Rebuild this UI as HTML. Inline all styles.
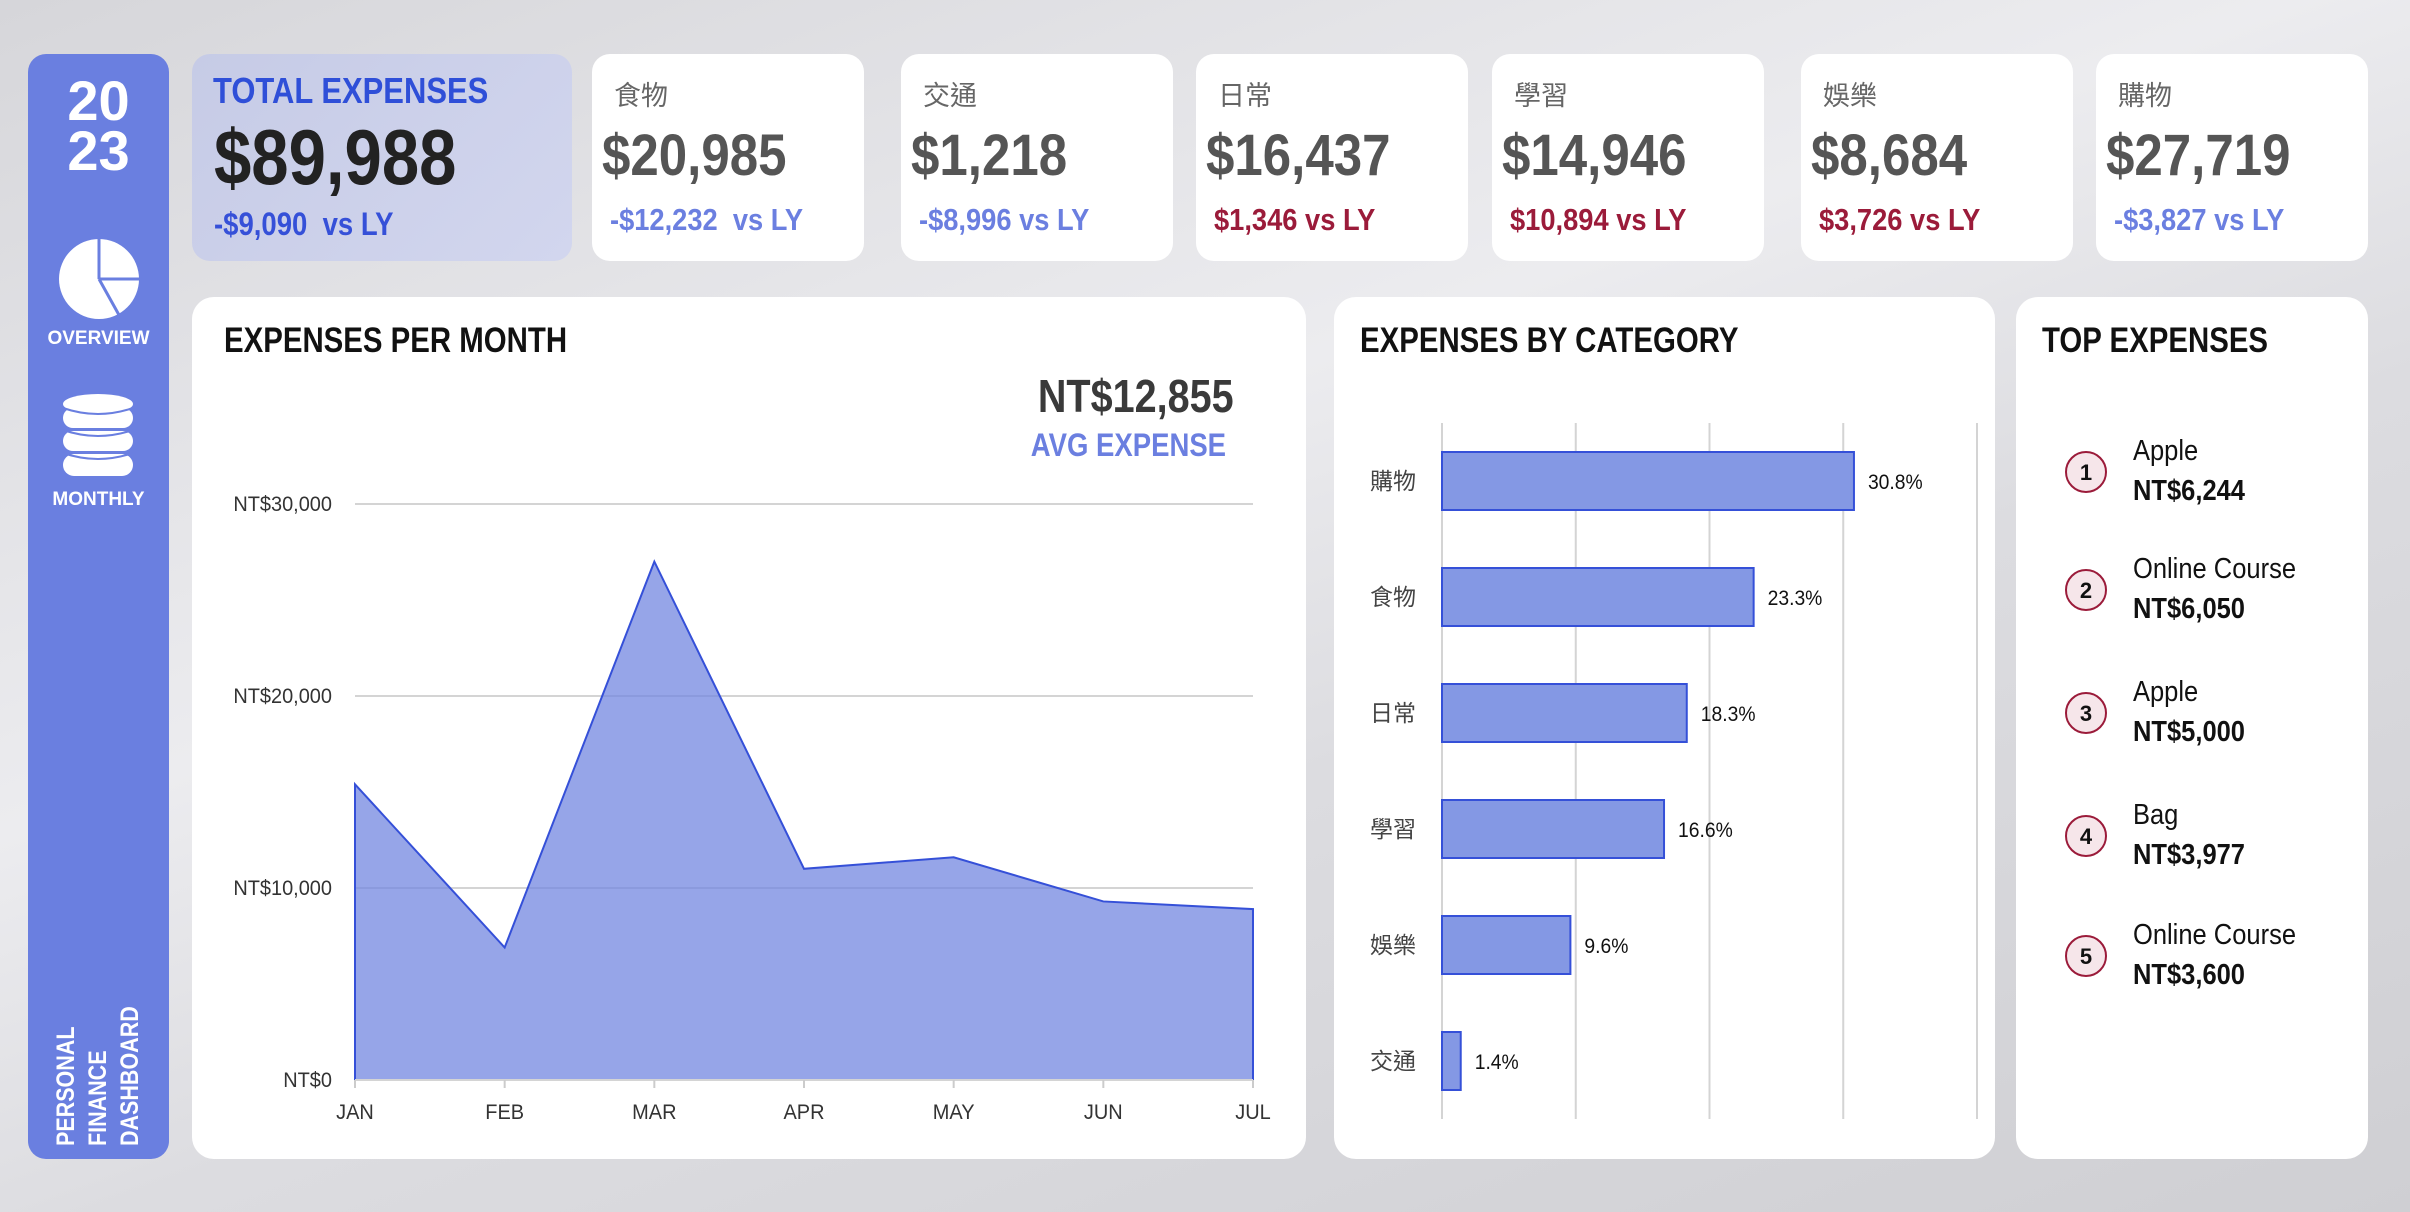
<!DOCTYPE html>
<html><head><meta charset="utf-8">
<style>
*{margin:0;padding:0;box-sizing:border-box}
body{width:2410px;height:1212px;overflow:hidden;position:relative;font-family:"Liberation Sans","Noto Sans CJK TC",sans-serif;background:linear-gradient(160deg,#d6d6da 0%,#ececef 40%,#dcdce0 60%,#cfcfd3 100%)}
.abs{position:absolute;white-space:nowrap}
.nx{transform:scaleX(.86);transform-origin:0 0}
.nr{transform:scaleX(.86);transform-origin:100% 0}
.card{position:absolute;background:#fff;border-radius:18px;top:54px;height:207px}
.lbl{position:absolute;left:22px;top:20px;font-size:27px;color:#666}
.val{position:absolute;left:10px;top:68px;font-size:58px;font-weight:bold;color:#555;transform:scaleX(.88);transform-origin:0 0}
.dl{position:absolute;left:18px;top:148px;font-size:31px;font-weight:bold;white-space:nowrap;transform:scaleX(.88);transform-origin:0 0}
.neg{color:#6b7fe0}.pos{color:#9b1b3a}
.panel{position:absolute;background:#fff;border-radius:22px;top:297px;height:862px}
.ptitle{position:absolute;font-size:35px;font-weight:bold;color:#111;top:24px;white-space:nowrap;transform:scaleX(.84);transform-origin:0 0}
.side{position:absolute;left:28px;top:54px;width:141px;height:1105px;background:#6a7fe0;border-radius:18px}
</style></head><body>
<div class="side">
 <div class="abs" style="left:0;width:141px;top:22px;text-align:center;color:#fff;font-weight:bold;font-size:56px;line-height:50px">20<br>23</div>
 <svg class="abs" style="left:29px;top:183px" width="84" height="84"><circle cx="42" cy="42" r="40" fill="#fff"/><path d="M42 42 L42 2 M42 42 L82 42 M42 42 L62 78" stroke="#6a7fe0" stroke-width="3" fill="none"/></svg>
 <div class="abs" style="left:0;width:141px;top:274px;text-align:center;color:#fff;font-weight:bold;font-size:19px">OVERVIEW</div>
 <svg class="abs" style="left:34px;top:340px" width="72" height="84"><g fill="#fff"><ellipse cx="36" cy="10" rx="35" ry="10"/><rect x="1" y="14" width="70" height="20" rx="10"/><rect x="1" y="37" width="70" height="20" rx="10"/><rect x="1" y="60" width="70" height="22" rx="11"/></g><g stroke="#6a7fe0" stroke-width="2" fill="none"><path d="M1 14 Q36 26 71 14"/><path d="M1 36 Q36 48 71 36"/><path d="M1 59 Q36 71 71 59"/></g></svg>
 <div class="abs" style="left:0;width:141px;top:435px;text-align:center;color:#fff;font-weight:bold;font-size:19px">MONTHLY</div>
 <div class="abs" style="left:22px;top:1092px;transform-origin:0 0;transform:rotate(-90deg) scaleX(.86);color:#fff;font-weight:bold;font-size:25px;line-height:32px">PERSONAL<br>FINANCE<br>DASHBOARD</div>
</div>

<div class="card" style="left:192px;width:380px;background:linear-gradient(135deg,#c6cbe6,#d2d6ee)">
 <div class="abs nx" style="left:21px;top:16px;font-size:36px;font-weight:bold;color:#2f4fd8">TOTAL EXPENSES</div>
 <div class="abs nx" style="left:22px;top:58px;font-size:78px;font-weight:bold;color:#222">$89,988</div>
 <div class="abs nx" style="left:22px;top:152px;font-size:32px;font-weight:bold;color:#3550d8">-$9,090 &nbsp;vs LY</div>
</div>
<div class="card" style="left:592px;width:272px"><div class="lbl">食物</div><div class="val">$20,985</div><div class="dl neg">-$12,232 &nbsp;vs LY</div></div>
<div class="card" style="left:901px;width:272px"><div class="lbl">交通</div><div class="val">$1,218</div><div class="dl neg">-$8,996 vs LY</div></div>
<div class="card" style="left:1196px;width:272px"><div class="lbl">日常</div><div class="val">$16,437</div><div class="dl pos">$1,346 vs LY</div></div>
<div class="card" style="left:1492px;width:272px"><div class="lbl">學習</div><div class="val">$14,946</div><div class="dl pos">$10,894 vs LY</div></div>
<div class="card" style="left:1801px;width:272px"><div class="lbl">娛樂</div><div class="val">$8,684</div><div class="dl pos">$3,726 vs LY</div></div>
<div class="card" style="left:2096px;width:272px"><div class="lbl">購物</div><div class="val">$27,719</div><div class="dl neg">-$3,827 vs LY</div></div>

<div class="panel" style="left:192px;width:1114px">
 <div class="ptitle" style="left:32px">EXPENSES PER MONTH</div>
 <div class="abs nr" style="right:72px;top:72px;font-size:46px;font-weight:bold;color:#3a3a3a">NT$12,855</div>
 <div class="abs nr" style="right:80px;top:130px;font-size:32px;font-weight:bold;color:#6b7fe0">AVG EXPENSE</div>
</div>
<div class="panel" style="left:1334px;width:661px">
 <div class="ptitle" style="left:26px">EXPENSES BY CATEGORY</div>
</div>
<div class="panel" style="left:2016px;width:352px">
 <div class="ptitle" style="left:26px">TOP EXPENSES</div>
</div>

<svg id="chart" class="abs" style="left:0;top:0" width="2410" height="1212"></svg>

<script>
const months=["JAN","FEB","MAR","APR","MAY","JUN","JUL"];
const monthValues=[15400,6900,27000,11000,11600,9300,8900];
const yTicks=[0,10000,20000,30000];
const yTickLabels=["NT$0","NT$10,000","NT$20,000","NT$30,000"];
const categories=["購物","食物","日常","學習","娛樂","交通"];
const categoryPct=[30.8,23.3,18.3,16.6,9.6,1.4];
const catTicks=[0,10,20,30,40];
const topNames=["Apple","Online Course","Apple","Bag","Online Course"];
const topValues=["NT$6,244","NT$6,050","NT$5,000","NT$3,977","NT$3,600"];

const NS="http://www.w3.org/2000/svg";
const svg=document.getElementById('chart');
function mk(t,a,txt){const e=document.createElementNS(NS,t);for(const k in a)e.setAttribute(k,a[k]);if(txt!==undefined)e.textContent=txt;svg.appendChild(e);return e;}
const FONT='"Liberation Sans","Noto Sans CJK TC",sans-serif';
function narrow(el,x,s){el.setAttribute('transform','translate('+x+',0) scale('+(s||0.88)+',1) translate('+(-x)+',0)');}

// area chart
const x0=355,x1=1253,yb=1080,yt=504,yMax=30000;
const xS=i=>x0+(x1-x0)*i/(months.length-1);
const yS=v=>yb-(yb-yt)*v/yMax;
yTicks.forEach((t,i)=>{
 if(t>0){const g=mk('line',{x1:x0,x2:x1,y1:yS(t),y2:yS(t),stroke:'#d4d4d4','stroke-width':2});
 
 }
 const l=mk('text',{x:332,y:yS(t)+7,'text-anchor':'end','font-size':21,fill:'#333','font-family':FONT},yTickLabels[i]);
 narrow(l,332,0.95);
 
 
});
let d='M'+xS(0)+','+yb;
monthValues.forEach((v,i)=>{d+=' L'+xS(i)+','+yS(v);});
d+=' L'+xS(months.length-1)+','+yb+' Z';
const area=mk('path',{d:d,fill:'#7387e0','fill-opacity':0.75,stroke:'#3550d8','stroke-width':2});


mk('line',{x1:x0,x2:x1,y1:yb,y2:yb,stroke:'#d4d4d4','stroke-width':2});
months.forEach((m,i)=>{
 mk('line',{x1:xS(i),x2:xS(i),y1:yb,y2:yb+8,stroke:'#ccc','stroke-width':2});
 const t=mk('text',{x:xS(i),y:1119,'text-anchor':'middle','font-size':21,fill:'#333','font-family':FONT},m);
 narrow(t,xS(i),0.95);
 
 
});

// bar chart
const bx0=1442,bx1=1977,bTop=423,bBot=1119,pMax=40;
const bS=p=>bx0+(bx1-bx0)*p/pMax;
const band=(bBot-bTop)/categories.length;
catTicks.forEach(t=>{
 const g=mk('line',{x1:bS(t),x2:bS(t),y1:bTop,y2:bBot,stroke:'#d4d4d4','stroke-width':2});
 
 
});
categories.forEach((c,i)=>{
 const cy=bTop+band*(i+0.5);
 const r=mk('rect',{x:bx0,y:cy-29,width:bS(categoryPct[i])-bx0,height:58,fill:'#8498e4',stroke:'#3550d8','stroke-width':2});
 
 
 const l=mk('text',{x:1370,y:cy+8,'font-size':23,fill:'#444','font-family':FONT},c);
 
 
 const vx=bS(categoryPct[i])+14;
 const v=mk('text',{x:vx,y:cy+8,'font-size':21,fill:'#111','font-family':FONT},categoryPct[i].toFixed(1)+'%');
 narrow(v,vx,0.92);
 
 
});

// top expenses
const tY=[472,590,713,836,956];
topNames.forEach((n,i)=>{
 const c=mk('circle',{cx:2086,cy:tY[i],r:20,fill:'#f6e6ea',stroke:'#9b1b3a','stroke-width':2});
 
 
 const rt=mk('text',{x:2086,y:tY[i]+8,'text-anchor':'middle','font-size':22,'font-weight':'bold',fill:'#111','font-family':FONT},String(i+1));
 
 
 const nt=mk('text',{x:2133,y:tY[i]-12,'font-size':29,fill:'#111','font-family':FONT},n);
 narrow(nt,2133);
 
 
 const vt=mk('text',{x:2133,y:tY[i]+28,'font-size':29,'font-weight':'bold',fill:'#111','font-family':FONT},topValues[i]);
 narrow(vt,2133);
 
 
});
</script>
</body></html>
